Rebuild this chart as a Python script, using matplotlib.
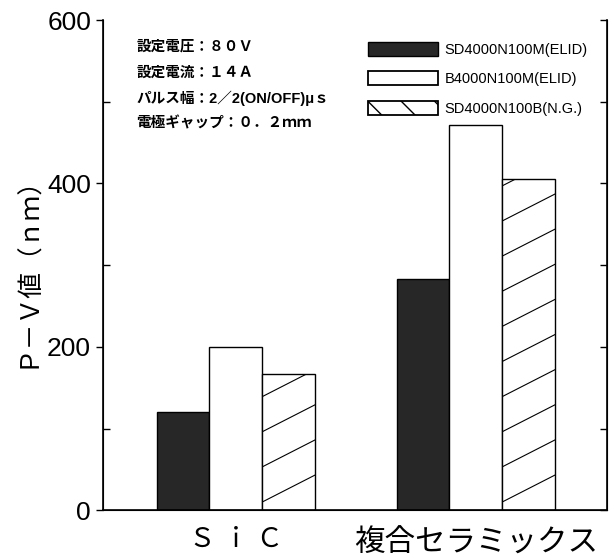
import numpy as np
import matplotlib
matplotlib.use("Agg")
import matplotlib.pyplot as plt
from matplotlib.patches import Patch
from matplotlib.ticker import MultipleLocator

plt.rcParams["font.family"] = ["Liberation Sans", "Noto Sans CJK JP", "DejaVu Sans"]

# P-V values (nm) per material and wheel
materials = ["Ｓ ｉ Ｃ", "複合セラミックス"]
series_names = ["SD4000N100M(ELID)", "B4000N100M(ELID)", "SD4000N100B(N.G.)"]
sd_elid = [120, 283]
b_elid = [200, 472]
sd_ng = [167, 405]
conditions = [
    "設定電圧：８０Ｖ",
    "設定電流：１４Ａ",
    "パルス幅：2／2(ON/OFF)μｓ",
    "電極ギャップ：０．２ｍｍ",
]

fig = plt.figure(figsize=(6.16, 5.57), dpi=100)
ax = fig.add_axes([0.167, 0.084, 0.818, 0.880])

x = np.arange(len(materials))
w = 0.22
ax.bar(x - w, sd_elid, w, color="#272727", edgecolor="black", linewidth=1.0, zorder=2)
ax.bar(x, b_elid, w, color="white", edgecolor="black", linewidth=1.0, zorder=2)
hatched = ax.bar(x + w, sd_ng, w, color="white", edgecolor="black", linewidth=1.0, zorder=2)

# shallow diagonal hatching, clipped to each bar
rise = 33   # data units gained across one bar width
step = 43   # vertical spacing between hatch lines
for rect in hatched:
    x0, w0, h0 = rect.get_x(), rect.get_width(), rect.get_height()
    xs = np.array([x0, x0 + w0])
    for off in np.arange(-rise, h0 + step, step):
        ys = off + (xs - x0) / w0 * rise
        ln, = ax.plot(xs, ys, color="black", linewidth=0.8, zorder=3)
        ln.set_clip_path(rect)

ax.set_xlim(-0.554, 1.546)
ax.set_ylim(0, 600)
ax.set_xticks(x)
ax.set_xticklabels(materials)
ax.get_xticklabels()[0].set_fontsize(19)
ax.get_xticklabels()[1].set_fontsize(22)
ax.tick_params(axis="x", length=0, pad=13)
ax.yaxis.set_major_locator(MultipleLocator(200))
ax.yaxis.set_minor_locator(MultipleLocator(100))
ax.tick_params(axis="y", which="major", direction="out", length=5, labelsize=19, width=1)
ax.tick_params(axis="y", which="minor", direction="in", length=5, width=1)
ax.set_ylabel("Ｐ－Ｖ値（ｎｍ）", fontsize=18.5, labelpad=6)
ax.spines["top"].set_visible(False)
for s in ("left", "right", "bottom"):
    ax.spines[s].set_linewidth(1.2)

# inward ticks on the right frame
rax = ax.twinx()
rax.set_ylim(ax.get_ylim())
rax.yaxis.set_major_locator(MultipleLocator(100))
rax.tick_params(axis="y", direction="in", length=5, width=1, labelright=False)
rax.spines["top"].set_visible(False)

for i, txt in enumerate(conditions):
    ax.text(0.067, 0.945 - i * 0.052, txt, transform=ax.transAxes, fontsize=10.5,
            fontweight="bold", va="center", ha="left")

handles = [
    Patch(facecolor="#272727", edgecolor="black", linewidth=1.0),
    Patch(facecolor="white", edgecolor="black", linewidth=1.3),
    Patch(facecolor="white", edgecolor="black", linewidth=1.3, hatch="\\"),
]
ax.legend(handles, series_names, loc="upper left", bbox_to_anchor=(0.515, 0.967),
          frameon=False, fontsize=10.5, handlelength=4.8, handleheight=1.1,
          handletextpad=0.45, labelspacing=0.98, borderaxespad=0)

fig.savefig("out.png", dpi=100)
